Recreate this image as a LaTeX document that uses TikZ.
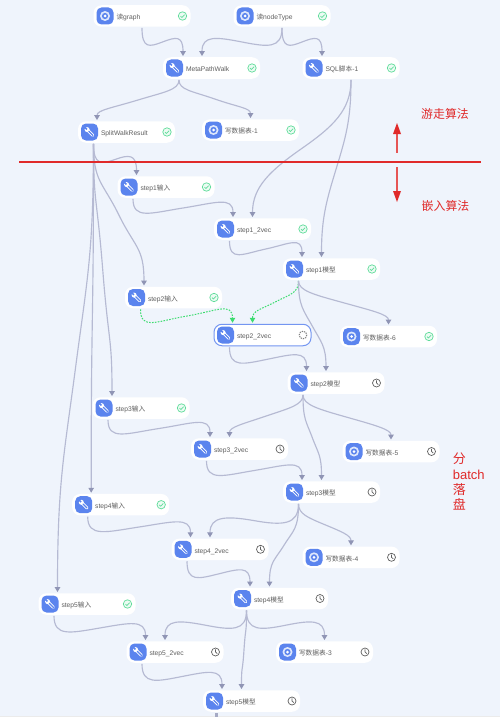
\documentclass[tikz,border=0pt]{standalone}
\usepackage{fontspec}
\setmainfont{Liberation Sans}
\newfontfamily\cjk{Noto Sans CJK SC}
\usetikzlibrary{calc,arrows.meta}
\definecolor{pagebg}{HTML}{EFF4FC}
\definecolor{edgec}{HTML}{B6BAD3}
\definecolor{tipc}{HTML}{9095B5}
\definecolor{iconblue}{HTML}{5B84EE}
\definecolor{okgreen}{HTML}{5FDC9A}
\definecolor{flowgreen}{HTML}{3DDC70}
\definecolor{labelgrey}{HTML}{5F5F5F}
\definecolor{redc}{HTML}{E02A2A}
\tikzset{
  x=1pt,y=-1pt,
  box/.style={fill=white,rounded corners=8pt,minimum width=97pt,minimum height=21.5pt,inner sep=0pt,
    text width=66pt,align=left,text height=5pt,text depth=1.5pt,text=labelgrey,
    font=\fontsize{6.7}{8}\selectfont},
  selbox/.style={box,draw=iconblue!85,line width=1pt},
  edge/.style={draw=edgec,line width=1.15pt,-{Triangle[length=5pt,width=5.5pt,color=tipc]}},
  greenedge/.style={draw=flowgreen,line width=1pt,dash pattern=on 1.6pt off 1.3pt,-{Triangle[length=5pt,width=5.5pt,color=flowgreen]}},
  redfill/.style={fill=redc},
  redtail/.style={fill=redc!80},
  redtext/.style={text=redc,inner sep=0pt,font=\cjk\fontsize{11.9}{14}\selectfont},
}
% name, x, y, style-of-box, label
\newcommand{\flowbox}[5]{\node[#4] (#1) at (#2,#3) {\hspace*{7.5pt}\raisebox{-2pt}{#5}};}
\newcommand{\toolicon}[1]{%
  \begin{scope}[shift={($(#1.center)+(-37,0)$)}]
    \fill[iconblue,rounded corners=5pt] (-8.5,-8.5) rectangle (8.5,8.5);
    \draw[white,line width=2.9pt,line cap=round] (-1.5,-1.5) -- (3.4,3.4);
    \fill[white] (-2.4,-2.4) circle (2.5);
    \draw[iconblue,line width=1.1pt,line cap=round] (-.8,-.8) -- (3.4,3.4);
    \draw[iconblue,line width=1.5pt] (-2.6,-2.6) -- (-5.2,-5.2);
  \end{scope}}
\newcommand{\diskicon}[1]{%
  \begin{scope}[shift={($(#1.center)+(-37,0)$)}]
    \fill[iconblue,rounded corners=5pt] (-8.5,-8.5) rectangle (8.5,8.5);
    \fill[white!80!iconblue] (0,0) circle (5);
    \fill[iconblue] (0,0) circle (3.1);
    \fill[white] (0,0) circle (1.5);
  \end{scope}}
\newcommand{\okmark}[1]{%
  \begin{scope}[shift={($(#1.center)+(40.5,0)$)}]
    \draw[okgreen,fill=okgreen!12,line width=.7pt] (0,0) circle (4.2);
    \draw[okgreen,line width=.7pt] (-2,.1) -- (-.5,1.5) -- (2.1,-1.3);
  \end{scope}}
\newcommand{\clockmark}[1]{%
  \begin{scope}[shift={($(#1.center)+(40.5,0)$)}]
    \draw[labelgrey,line width=.7pt] (0,0) circle (4);
    \draw[labelgrey,line width=.7pt] (0,-2.6) -- (0,0) -- (1.8,1.6);
  \end{scope}}
\newcommand{\spinmark}[1]{%
  \begin{scope}[shift={($(#1.center)+(40.5,0)$)}]
    \draw[labelgrey!80,line width=1pt,dash pattern=on 1.3pt off 1pt] (0,0) circle (3.8);
  \end{scope}}
% [style] source, source dx, target, target dx, k, b
\newcommand{\conn}[7][edge]{%
  \draw[#1] let \p1=($(#2.south)+(#3,1)$), \p2=($(#4.north)+(#5,-1)$),
     \n1={\x2-\x1}, \n2={0.5*\x1+0.5*\x2}, \n3={0.5*\y1+0.5*\y2} in
    (\p1) .. controls ({\x1},{\y1-#6pt}) and ({\n2-0.32*\n1},{\n3-#7pt}) .. ({\n2},{\n3})
    .. controls ({\n2+0.32*\n1},{\n3+#7pt}) and ({\x2},{\y2+#6pt}) .. (\p2);}
\newcommand{\wave}[5][edge]{\conn[#1]{#2}{#3}{#4}{#5}{21}{5}}
\begin{document}
\begin{tikzpicture}
\useasboundingbox (0,0) rectangle (500,717);
\fill[pagebg] (0,0) rectangle (500,717);
\fill[black!8] (0,715.6) rectangle (500,717);

\flowbox{graph}{142}{16}{box}{{\cjk 读}graph}
\flowbox{ntype}{282}{16}{box}{{\cjk 读}nodeType}
\flowbox{meta}{211.5}{68}{box}{MetaPathWalk}
\flowbox{sql}{351}{68}{box}{SQL{\cjk 脚本}-1}
\flowbox{split}{126.5}{132}{box}{SplitWalkResult}
\flowbox{w1}{250.5}{130}{box}{{\cjk 写数据表}-1}
\flowbox{in1}{166}{187}{box}{step1{\cjk 输入}}
\flowbox{vec1}{262.5}{229}{box}{step1\_2vec}
\flowbox{mod1}{331.5}{269}{box}{step1{\cjk 模型}}
\flowbox{in2}{173.5}{297.5}{box}{step2{\cjk 输入}}
\flowbox{vec2}{262.5}{335}{selbox}{step2\_2vec}
\flowbox{w6}{388.5}{336.5}{box}{{\cjk 写数据表}-6}
\flowbox{mod2}{336}{383}{box}{step2{\cjk 模型}}
\flowbox{in3}{141}{408}{box}{step3{\cjk 输入}}
\flowbox{vec3}{239.5}{449}{box}{step3\_2vec}
\flowbox{w5}{391}{451.5}{box}{{\cjk 写数据表}-5}
\flowbox{mod3}{331.5}{492}{box}{step3{\cjk 模型}}
\flowbox{in4}{120.7}{504.7}{box}{step4{\cjk 输入}}
\flowbox{vec4}{220}{549.3}{box}{step4\_2vec}
\flowbox{w4}{351}{557.3}{box}{{\cjk 写数据表}-4}
\flowbox{mod4}{279.5}{598.5}{box}{step4{\cjk 模型}}
\flowbox{in5}{87}{604}{box}{step5{\cjk 输入}}
\flowbox{vec5}{175}{652}{box}{step5\_2vec}
\flowbox{w3}{324.5}{652}{box}{{\cjk 写数据表}-3}
\flowbox{mod5}{251.5}{701}{box}{step5{\cjk 模型}}

\diskicon{graph}\okmark{graph}
\diskicon{ntype}\okmark{ntype}
\toolicon{meta}\okmark{meta}
\toolicon{sql}\okmark{sql}
\toolicon{split}\okmark{split}
\diskicon{w1}\okmark{w1}
\toolicon{in1}\okmark{in1}
\toolicon{vec1}\okmark{vec1}
\toolicon{mod1}\okmark{mod1}
\toolicon{in2}\okmark{in2}
\toolicon{vec2}\spinmark{vec2}
\diskicon{w6}\okmark{w6}
\toolicon{mod2}\clockmark{mod2}
\toolicon{in3}\okmark{in3}
\toolicon{vec3}\clockmark{vec3}
\diskicon{w5}\clockmark{w5}
\toolicon{mod3}\clockmark{mod3}
\toolicon{in4}\okmark{in4}
\toolicon{vec4}\clockmark{vec4}
\diskicon{w4}\clockmark{w4}
\toolicon{mod4}\clockmark{mod4}
\toolicon{in5}\okmark{in5}
\toolicon{vec5}\clockmark{vec5}
\diskicon{w3}\clockmark{w3}
\toolicon{mod5}\clockmark{mod5}

\wave{graph}{0}{meta}{-28.5}
\wave{ntype}{0}{meta}{-9.5}
\wave{ntype}{0}{sql}{-29}
\conn{meta}{-32.5}{split}{-29.5}{10}{-8}
\conn{meta}{-32.5}{w1}{0}{10}{-8}
\conn{sql}{0}{vec1}{-10}{30}{-22}
\conn{sql}{0}{mod1}{-10}{40}{-31}
\wave{split}{-33}{in1}{-29.5}
\conn{split}{-33}{in2}{-29.5}{38}{-33}
\conn{split}{-33}{in3}{-29}{60}{-75}
\conn{split}{-33}{in4}{-29.5}{100}{-50}
\conn{split}{-33}{in5}{-29.5}{110}{-88}
\wave{in1}{-33}{vec1}{-29.5}
\wave{vec1}{-33}{mod1}{-29.5}
\wave[greenedge]{in2}{-33}{vec2}{-30}
\conn[greenedge]{mod1}{-33}{vec2}{-10}{12}{-7.5}
\conn{mod1}{-33}{mod2}{-10}{25}{-16}
\conn{mod1}{-33}{w6}{0}{10}{-8}
\wave{vec2}{-33}{mod2}{-29.5}
\conn{mod2}{-33}{vec3}{-10}{10}{-8}
\conn{mod2}{-33}{mod3}{-10}{25}{-16}
\conn{mod2}{-33}{w5}{0}{10}{-8}
\wave{in3}{-33}{vec3}{-29.5}
\wave{vec3}{-33}{mod3}{-29.5}
\wave{mod3}{-33}{vec4}{-10}
\conn{mod3}{-33}{mod4}{-10}{25}{-15}
\conn{mod3}{-33}{w4}{0}{10}{-7}
\wave{in4}{-33}{vec4}{-29.5}
\wave{vec4}{-33}{mod4}{-29.5}
\wave{mod4}{-33}{vec5}{-10}
\conn{mod4}{-33}{mod5}{-10}{25}{-25}
\wave{mod4}{-33}{w3}{0}
\wave{in5}{-33}{vec5}{-29.5}
\wave{vec5}{-33}{mod5}{-29.5}
\fill[tipc!80] ($(mod5.south)+(-36.5,1.5)$) rectangle ($(mod5.south)+(-33.5,5)$);

% separator and the two red arrows, as filled shapes
\fill[redfill] (19,160.5) rectangle (481,162.5);
\fill[redtail] (396.1,153) rectangle (397.9,134);
\fill[redfill] (393,134) -- (397,123) -- (401,134) -- cycle;
\fill[redtail] (396.1,167) rectangle (397.9,191);
\fill[redfill] (393,191) -- (397,202) -- (401,191) -- cycle;
\node[redtext] (algwalk) at (445,114) {游走算法};
\node[redtext] (algembed) at (445.5,206) {嵌入算法};
\node[redtext,anchor=north west,align=left,font=\fontsize{13}{15.3}\selectfont] (batch) at (452.7,453) {{\cjk 分}\\batch\\{\cjk 落}\\{\cjk 盘}};
\end{tikzpicture}
\end{document}
